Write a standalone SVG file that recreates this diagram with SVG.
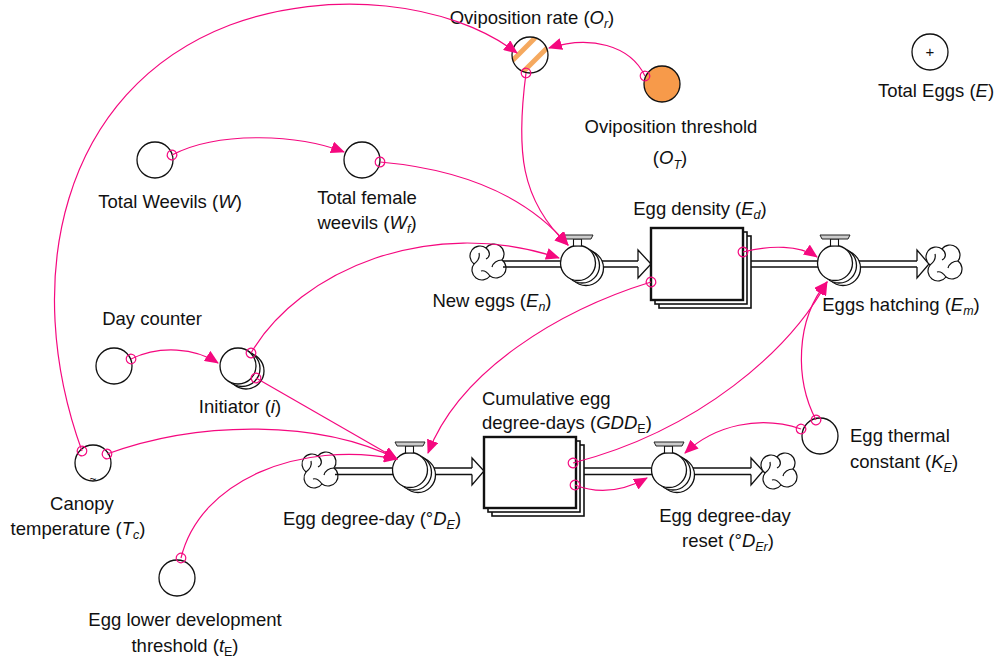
<svg xmlns="http://www.w3.org/2000/svg" xmlns:xlink="http://www.w3.org/1999/xlink" width="1000" height="659" viewBox="0 0 1000 659">
  <style>
    text { font-family: "Liberation Sans", Arial, sans-serif; font-size: 18.5px; fill: #111; }
    .it { font-style: italic; }
    .sub { font-size: 12.5px; }
    .aux { fill: #fff; stroke: #111; stroke-width: 1.3; }
    .stock { fill: #fff; stroke: #111; stroke-width: 1.6; }
    .stockf { fill: #fff; stroke: #111; stroke-width: 2.4; }
    .pipe { fill: none; stroke: #111; stroke-width: 1.3; }
    .pipehead { fill: #fff; stroke: #111; stroke-width: 1.3; stroke-linejoin: miter; }
    .link { fill: none; stroke: #f5087f; stroke-width: 1.2; marker-start: url(#tail); marker-end: url(#head); }
  </style>
  <defs>
    <marker id="head" markerUnits="userSpaceOnUse" viewBox="0 0 14 12" refX="13" refY="6" markerWidth="14" markerHeight="12" orient="auto">
      <path d="M0,0 L14,6 L0,12 Z" fill="#f5087f"/>
    </marker>
    <marker id="tail" markerUnits="userSpaceOnUse" viewBox="-6 -6 12 12" refX="0" refY="0" markerWidth="12" markerHeight="12" orient="auto">
      <circle r="4.8" fill="none" stroke="#f5087f" stroke-width="1.2"/>
    </marker>
    <!-- flow valve: stacked bodies plus handle -->
    <g id="valve">
      <circle cx="8" cy="5" r="17.5" class="aux"/>
      <circle cx="4" cy="2.5" r="17.5" class="aux"/>
      <circle r="17.5" class="aux"/>
      <rect x="-4.5" y="-24" width="8" height="7" fill="#fff" stroke="#111" stroke-width="1.1"/>
      <path d="M-15,-28 L15,-28 L13,-24 L-13,-24 Z" fill="#ccc" stroke="#222" stroke-width="1"/>
    </g>
    <!-- source / sink cloud -->
    <g id="cloud" fill="#fff" stroke="#111" stroke-width="1.2">
      <path d="M-2,-14 A8.5,8.5 0 0 1 14,-2 A8.5,8.5 0 0 1 2,14 A8.5,8.5 0 0 1 -14,2 A8.5,8.5 0 0 1 -2,-14 Z"/>
      <path fill="none" d="M-2,-14 C3,-10 2,-5 -2,-3 M14,-2 C9,-2 5,1 4,5 M2,14 C-1,10 -4,8 -7,9 M-14,2 C-10,-1 -8,-5 -9,-9"/>
    </g>
    <clipPath id="oclip"><circle cx="530" cy="55" r="18"/></clipPath>
  </defs>

  <!-- material pipes -->
  <g id="pipes">
    <use xlink:href="#cloud" x="488" y="262"/>
    <path class="pipe" d="M503,261 H639 M503,267 H639"/>
    <path class="pipehead" d="M638,261 V250 L651,264 L638,278 V267"/>

    <path class="pipe" d="M745,261 H918 M745,267 H918"/>
    <path class="pipehead" d="M917,261 V250 L929,264 L917,278 V267"/>
    <use xlink:href="#cloud" x="944" y="263"/>

    <use xlink:href="#cloud" x="320" y="470"/>
    <path class="pipe" d="M335,468 H473 M335,474.5 H473"/>
    <path class="pipehead" d="M472,468 V458 L484,471 L472,485 V474.5"/>

    <path class="pipe" d="M579,468 H752 M579,474.5 H752"/>
    <path class="pipehead" d="M751,468 V458 L763,471 L751,485 V474.5"/>
    <use xlink:href="#cloud" x="779" y="471"/>
  </g>

  <!-- stocks -->
  <g id="egg-density">
    <rect x="659" y="236" width="92" height="72" class="stock"/>
    <rect x="655" y="232" width="92" height="72" class="stock"/>
    <rect x="651" y="228" width="92" height="72" class="stockf"/>
    <text x="700" y="215" text-anchor="middle">Egg density (<tspan class="it">E</tspan><tspan class="sub it" dy="4">d</tspan><tspan dy="-4">)</tspan></text>
  </g>
  <g id="cumulative-egg-degree-days">
    <rect x="492" y="445" width="92" height="71" class="stock"/>
    <rect x="488" y="441" width="92" height="71" class="stock"/>
    <rect x="484" y="437" width="92" height="71" class="stockf"/>
    <text x="482" y="405">Cumulative egg</text>
    <text x="482" y="429">degree-days (<tspan class="it">GDD</tspan><tspan class="sub" dy="4">E</tspan><tspan dy="-4">)</tspan></text>
  </g>

  <!-- flows -->
  <g id="new-eggs">
    <use xlink:href="#valve" x="578" y="263"/>
    <text x="492" y="307" text-anchor="middle">New eggs (<tspan class="it">E</tspan><tspan class="sub it" dy="4">n</tspan><tspan dy="-4">)</tspan></text>
  </g>
  <g id="eggs-hatching">
    <use xlink:href="#valve" x="835" y="263"/>
    <text x="901" y="311" text-anchor="middle">Eggs hatching (<tspan class="it">E</tspan><tspan class="sub it" dy="4">m</tspan><tspan dy="-4">)</tspan></text>
  </g>
  <g id="egg-degree-day">
    <use xlink:href="#valve" x="410" y="470"/>
    <text x="372" y="525" text-anchor="middle">Egg degree-day (°<tspan class="it">D</tspan><tspan class="sub it" dy="4">E</tspan><tspan dy="-4">)</tspan></text>
  </g>
  <g id="egg-degree-day-reset">
    <use xlink:href="#valve" x="669" y="470"/>
    <text x="725" y="522" text-anchor="middle">Egg degree-day</text>
    <text x="728" y="547" text-anchor="middle">reset (°<tspan class="it">D</tspan><tspan class="sub it" dy="4">Er</tspan><tspan dy="-4">)</tspan></text>
  </g>

  <!-- auxiliaries -->
  <g id="oviposition-rate">
    <circle cx="530" cy="55" r="18" fill="#fff"/>
    <g clip-path="url(#oclip)" stroke="#f4a04e" stroke-width="5" stroke-opacity="0.9">
      <line x1="503" y1="70" x2="539" y2="34"/>
      <line x1="514" y1="81" x2="550" y2="45"/>
      <line x1="525" y1="92" x2="561" y2="56"/>
    </g>
    <circle cx="530" cy="55" r="18" fill="none" stroke="#111" stroke-width="1.3"/>
    <text x="532" y="24" text-anchor="middle">Oviposition rate (<tspan class="it">O</tspan><tspan class="sub it" dy="4">r</tspan><tspan dy="-4">)</tspan></text>
  </g>
  <g id="oviposition-threshold">
    <circle cx="662" cy="84" r="18" fill="#f79a4a" stroke="#111" stroke-width="1.3"/>
    <text x="671" y="133" text-anchor="middle">Oviposition threshold</text>
    <text x="670" y="164" text-anchor="middle">(<tspan class="it">O</tspan><tspan class="sub it" dy="5">T</tspan><tspan dy="-5">)</tspan></text>
  </g>
  <g id="total-eggs">
    <circle cx="930" cy="52" r="18" class="aux"/>
    <text x="930" y="57" text-anchor="middle" style="font-size:15px">+</text>
    <text x="936" y="97" text-anchor="middle">Total Eggs (<tspan class="it">E</tspan>)</text>
  </g>
  <g id="total-weevils">
    <circle cx="155" cy="160" r="18" class="aux"/>
    <text x="170" y="208" text-anchor="middle">Total Weevils (<tspan class="it">W</tspan>)</text>
  </g>
  <g id="total-female-weevils">
    <circle cx="362" cy="160" r="18" class="aux"/>
    <text x="367" y="204" text-anchor="middle">Total female</text>
    <text x="367" y="229" text-anchor="middle">weevils (<tspan class="it">W</tspan><tspan class="sub it" dy="4">f</tspan><tspan dy="-4">)</tspan></text>
  </g>
  <g id="day-counter">
    <circle cx="114" cy="366" r="18" class="aux"/>
    <text x="152" y="325" text-anchor="middle">Day counter</text>
  </g>
  <g id="initiator">
    <circle cx="246" cy="371" r="18" class="aux"/>
    <circle cx="242" cy="368.5" r="18" class="aux"/>
    <circle cx="238" cy="366" r="18" class="aux"/>
    <text x="240" y="413" text-anchor="middle">Initiator (<tspan class="it">i</tspan>)</text>
  </g>
  <g id="canopy-temperature">
    <circle cx="93" cy="463" r="18" class="aux"/>
    <text x="93" y="483" text-anchor="middle" style="font-size:12px">~</text>
    <text x="82" y="510" text-anchor="middle">Canopy</text>
    <text x="78" y="535" text-anchor="middle">temperature (<tspan class="it">T</tspan><tspan class="sub it" dy="4">c</tspan><tspan dy="-4">)</tspan></text>
  </g>
  <g id="egg-thermal-constant">
    <circle cx="820" cy="436" r="18" class="aux"/>
    <text x="850" y="442">Egg thermal</text>
    <text x="850" y="468">constant (<tspan class="it">K</tspan><tspan class="sub it" dy="4">E</tspan><tspan dy="-4">)</tspan></text>
  </g>
  <g id="egg-lower-development-threshold">
    <circle cx="177" cy="578" r="18" class="aux"/>
    <text x="185" y="626" text-anchor="middle">Egg lower development</text>
    <text x="185" y="652" text-anchor="middle">threshold (<tspan class="it">t</tspan><tspan class="sub" dy="4">E</tspan><tspan dy="-4">)</tspan></text>
  </g>

  <!-- information links -->
  <g id="links">
    <path class="link" d="M82,451 C20,280 60,90 230,25 C330,-12 450,2 517,53"/>
    <path class="link" d="M645,76 C630,45 590,35 549,48"/>
    <path class="link" d="M526,73 C516,150 520,200 568,245"/>
    <path class="link" d="M172,155 C220,130 300,135 344,152"/>
    <path class="link" d="M380,162 C470,170 530,200 568,245"/>
    <path class="link" d="M251,353 C300,270 430,215 559,258"/>
    <path class="link" d="M131,359 C160,345 195,348 218,363"/>
    <path class="link" d="M256,378 L397,459"/>
    <path class="link" d="M107,454 C200,420 320,420 397,459"/>
    <path class="link" d="M181,558 C200,480 300,440 397,459"/>
    <path class="link" d="M651,282 C560,310 460,370 428,453"/>
    <path class="link" d="M743,252 C770,245 800,245 817,257"/>
    <path class="link" d="M573,463 C700,430 790,350 827,282"/>
    <path class="link" d="M816,420 C795,380 795,320 827,282"/>
    <path class="link" d="M801,429 C760,415 715,425 685,453"/>
    <path class="link" d="M575,485 C600,495 625,490 647,478"/>
  </g>
</svg>
